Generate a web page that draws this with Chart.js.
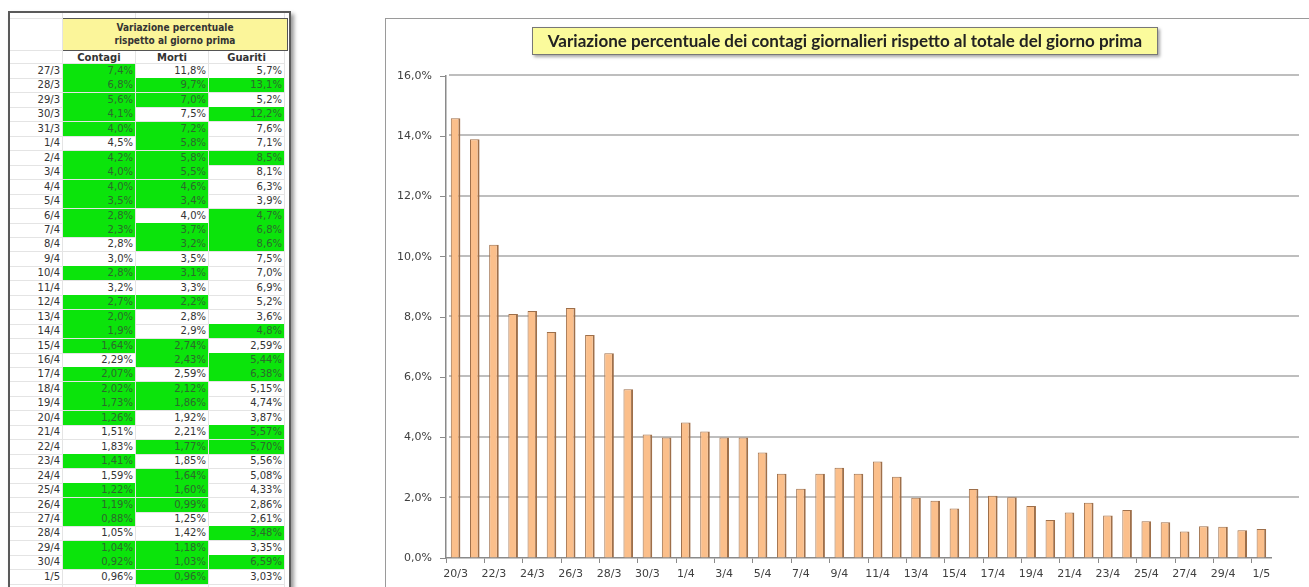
<!DOCTYPE html>
<html>
<head>
<meta charset="utf-8">
<script src="https://cdn.jsdelivr.net/npm/chart.js@4.4.1/dist/chart.umd.min.js"></script>
<style>
  body { margin: 0; width: 1309px; height: 587px; background: #fff; overflow: hidden; position: relative; font-family: 'DejaVu Sans', sans-serif; }
  #tabella { position: absolute; left: 8px; top: 11px; width: 279px; height: 590px; border: 2px solid #5a5a5a; box-shadow: 3px 3px 4px rgba(0,0,0,0.4); background: #fff; overflow: hidden; }
  #tabella div { position: absolute; box-sizing: border-box; white-space: nowrap; }
  .cella { font-size: 10px; line-height: 14px; text-align: right; padding-right: 2px; color: #333; border-bottom: 1px solid #e4e4e4; border-right: 1px solid #e4e4e4; }
  .verde { background: #0be40b; color: #2c6a2c; }
  .intest { font-size: 10px; font-weight: bold; text-align: center; color: #333; line-height: 13px; font-family: 'DejaVu Sans Condensed', 'DejaVu Sans', sans-serif; }
  .colonna { font-family: 'DejaVu Sans', sans-serif; }
  #titoloTab { background: #fbf59a; border: 1px solid #555; }
  #grafico { position: absolute; left: 385px; top: 18px; width: 924px; height: 569px; border-left: 1px solid #9a9a9a; border-top: 1px solid #9a9a9a; }
  #titolo { position: absolute; left: 532px; top: 27px; width: 626px; height: 28px; box-sizing: border-box; background: #fbfb9c; border: 1px solid #777; box-shadow: 2px 2px 3px rgba(0,0,0,0.35); font: bold 17px Lato, sans-serif; color: #222; text-align: center; line-height: 26px; }
</style>
</head>
<body>
<div id="tabella"></div>
<div id="grafico"><canvas id="chartContagi"></canvas></div>
<div id="titolo">Variazione percentuale dei contagi giornalieri rispetto al totale del giorno prima</div>
<script>
// grafico: variazione % contagi
const giorni = ['20/3','21/3','22/3','23/3','24/3','25/3','26/3','27/3','28/3','29/3','30/3','31/3',
  '1/4','2/4','3/4','4/4','5/4','6/4','7/4','8/4','9/4','10/4','11/4','12/4','13/4','14/4','15/4',
  '16/4','17/4','18/4','19/4','20/4','21/4','22/4','23/4','24/4','25/4','26/4','27/4','28/4','29/4','30/4','1/5'];
const variazioneContagi = [14.6, 13.9, 10.4, 8.1, 8.2, 7.5, 8.3, 7.4, 6.8, 5.6, 4.1, 4.0,
  4.5, 4.2, 4.0, 4.0, 3.5, 2.8, 2.3, 2.8, 3.0, 2.8, 3.2, 2.7, 2.0, 1.9, 1.64,
  2.29, 2.07, 2.02, 1.73, 1.26, 1.51, 1.83, 1.41, 1.59, 1.22, 1.19, 0.88, 1.05, 1.04, 0.92, 0.96];
const yTicks = [0, 2, 4, 6, 8, 10, 12, 14, 16];

// tabella a sinistra
const tabGiorni = ['27/3','28/3','29/3','30/3','31/3','1/4','2/4','3/4','4/4','5/4','6/4','7/4','8/4','9/4',
  '10/4','11/4','12/4','13/4','14/4','15/4','16/4','17/4','18/4','19/4','20/4','21/4','22/4','23/4',
  '24/4','25/4','26/4','27/4','28/4','29/4','30/4','1/5'];
const tabContagi = ['7,4%','6,8%','5,6%','4,1%','4,0%','4,5%','4,2%','4,0%','4,0%','3,5%','2,8%','2,3%','2,8%','3,0%',
  '2,8%','3,2%','2,7%','2,0%','1,9%','1,64%','2,29%','2,07%','2,02%','1,73%','1,26%','1,51%','1,83%','1,41%',
  '1,59%','1,22%','1,19%','0,88%','1,05%','1,04%','0,92%','0,96%'];
const tabMorti = ['11,8%','9,7%','7,0%','7,5%','7,2%','5,8%','5,8%','5,5%','4,6%','3,4%','4,0%','3,7%','3,2%','3,5%',
  '3,1%','3,3%','2,2%','2,8%','2,9%','2,74%','2,43%','2,59%','2,12%','1,86%','1,92%','2,21%','1,77%','1,85%',
  '1,64%','1,60%','0,99%','1,25%','1,42%','1,18%','1,03%','0,96%'];
const tabGuariti = ['5,7%','13,1%','5,2%','12,2%','7,6%','7,1%','8,5%','8,1%','6,3%','3,9%','4,7%','6,8%','8,6%','7,5%',
  '7,0%','6,9%','5,2%','3,6%','4,8%','2,59%','5,44%','6,38%','5,15%','4,74%','3,87%','5,57%','5,70%','5,56%',
  '5,08%','4,33%','2,86%','2,61%','3,48%','3,35%','6,59%','3,03%'];
const verdeContagi = [1,1,1,1,1,0,1,1,1,1,1,1,0,0,1,0,1,1,1,1,0,1,1,1,1,0,0,1,0,1,1,1,0,1,1,0];
const verdeMorti   = [0,1,1,0,1,1,1,1,1,1,0,1,1,0,1,0,1,0,0,1,1,0,1,1,0,0,1,0,1,1,1,0,0,1,1,1];
const verdeGuariti = [0,1,0,1,0,0,1,0,0,0,1,1,1,0,0,0,0,0,1,0,1,1,0,0,0,1,1,0,0,0,0,0,1,0,1,0];

// --- costruzione tabella ---
const tab = document.getElementById('tabella');
function add(cls, txt, x, y, w, h) {
  const d = document.createElement('div');
  d.className = cls;
  d.textContent = txt;
  Object.assign(d.style, { left: x + 'px', top: y + 'px', width: w + 'px', height: h + 'px' });
  tab.appendChild(d);
  return d;
}
const cols = [[0, 53], [53, 73], [126, 73], [199, 76]];
cols.forEach(c => add('cella', '', c[0], 0, c[1], 6));
const t = add('intest', '', 52, 5, 226, 33);
t.id = 'titoloTab';
t.innerHTML = 'Variazione percentuale<br>rispetto al giorno prima';
t.style.paddingTop = '2px';
add('cella', '', 0, 5, 53, 33);
['', 'Contagi', 'Morti', 'Guariti'].forEach((h, i) => {
  add('intest colonna cella', h, cols[i][0], 38, cols[i][1], 13).style.paddingRight = '0';
});
tabGiorni.forEach((g, i) => {
  const y = 51 + i * 14.45;
  add('cella', g, cols[0][0], y, cols[0][1], 15);
  add('cella' + (verdeContagi[i] ? ' verde' : ''), tabContagi[i], cols[1][0], y, cols[1][1], 15);
  add('cella' + (verdeMorti[i] ? ' verde' : ''), tabMorti[i], cols[2][0], y, cols[2][1], 15);
  add('cella' + (verdeGuariti[i] ? ' verde' : ''), tabGuariti[i], cols[3][0], y, cols[3][1], 15);
});
cols.forEach(c => add('cella', '', c[0], 51 + tabGiorni.length * 14.45, c[1], 15));

// --- grafico ---
Chart.defaults.font.family = "'DejaVu Sans', sans-serif";
Chart.defaults.color = '#404040';

// linee della griglia sulla parete di fondo (un po' più lunghe dell'area)
const pareteGriglia = {
  id: 'pareteGriglia',
  beforeDatasetsDraw(chart) {
    const { ctx, chartArea, scales: { y } } = chart;
    ctx.save();
    ctx.strokeStyle = '#a9a9a9';
    ctx.lineWidth = 1.5;
    yTicks.forEach(v => {
      if (v === 0) return;
      const py = Math.round(y.getPixelForValue(v)) - 1;
      ctx.beginPath();
      ctx.moveTo(chartArea.left + 3, py);
      ctx.lineTo(chartArea.right + 28, py);
      ctx.stroke();
    });
    ctx.restore();
  }
};

new Chart(document.getElementById('chartContagi'), {
  type: 'bar',
  data: {
    labels: giorni,
    datasets: [{
      data: variazioneContagi,
      backgroundColor: '#fbbf8b',
      borderColor: '#9e6f4a',
      borderWidth: { top: 1, right: 2, left: 1, bottom: 0 },
      borderSkipped: false,
      barPercentage: 0.5,
      categoryPercentage: 1
    }]
  },
  options: {
    responsive: true,
    maintainAspectRatio: false,
    animation: false,
    layout: { padding: { top: 57, right: 39, left: 0, bottom: 0 } },
    plugins: { legend: { display: false }, tooltip: { enabled: false } },
    scales: {
      x: {
        grid: {
          offset: true,
          drawOnChartArea: false,
          tickLength: 5,
          color: c => (c.index % 2 === 0 ? '#8a8a8a' : 'rgba(0,0,0,0)')
        },
        border: { color: '#8a8a8a', width: 1.5 },
        ticks: {
          autoSkip: false,
          maxRotation: 0,
          padding: 5,
          font: { size: 11 },
          callback: (v, i) => (i % 2 === 0 ? giorni[i] : '')
        },
        afterFit: s => { s.height = 30; }
      },
      y: {
        min: 0,
        max: 16,
        afterBuildTicks: s => { s.ticks = yTicks.map(v => ({ value: v })); },
        grid: { drawOnChartArea: false, tickLength: 6, color: '#8a8a8a' },
        border: { color: '#8a8a8a', width: 1.5 },
        ticks: {
          padding: 8,
          font: { size: 11 },
          callback: v => v.toFixed(1).replace('.', ',') + '%'
        },
        afterFit: s => { s.width = 60; }
      }
    }
  },
  plugins: [pareteGriglia]
});
</script>
</body>
</html>
